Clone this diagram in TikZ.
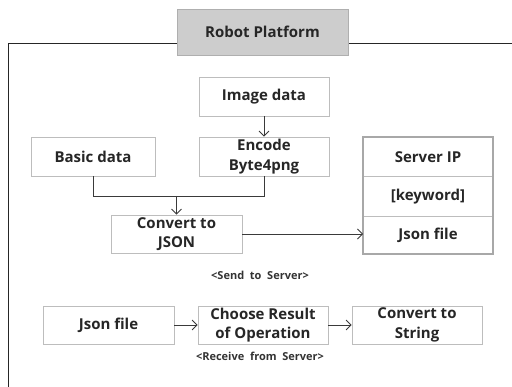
\documentclass[tikz,border=0pt]{standalone}
\usepackage{fontspec}
\setmainfont{Open Sans}
\usetikzlibrary{arrows.meta}
\definecolor{boxline}{HTML}{BDBDBD}
\definecolor{titlefill}{HTML}{CDCDCD}
\definecolor{titleline}{HTML}{AFAFAF}
\definecolor{srvline}{HTML}{A8A8A8}
\definecolor{wire}{HTML}{3A3A3A}
\tikzset{
  box/.style={draw=boxline, line width=0.8pt, fill=white, minimum width=130pt,
    minimum height=39pt, inner sep=1pt, align=center,
    font=\fontsize{15}{19.5}\selectfont\bfseries, text=black!85},
  row/.style={box, draw=none, minimum height=38.5pt, fill=none},
  note/.style={font=\fontsize{11}{13}\selectfont\bfseries, text=black!80},
  link/.style={draw=wire, line width=0.8pt},
  flow/.style={link, -{Straight Barb[length=5pt,width=10pt]}},
}
\begin{document}
\begin{tikzpicture}[x=1pt,y=-1pt]
\useasboundingbox (0,0) rectangle (512,387);
% platform frame
\coordinate (ftl) at (8,43);
\coordinate (ftr) at (512,43);
\coordinate (fbl) at (8,387);
\draw[link, draw=black!85] (ftr) -- (ftl) -- (fbl);
% title
\node[box, draw=titleline, fill=titlefill, minimum width=171pt, minimum height=46pt] (title) at (262.5,32) {Robot Platform};
% sending chain
\node[box] (img) at (264,96.5) {Image data};
\node[box, minimum width=124pt] (basic) at (93,156.5) {Basic data};
\node[box] (enc) at (264,156.5) {Encode\\Byte4png};
\node[box, minimum width=131pt, minimum height=38pt] (conv) at (176.5,234) {Convert to\\JSON};
% server message
\node[row] (ip) at (428,157) {Server IP};
\node[row] (kw) at (428,196.5) {[keyword]};
\node[row] (jf) at (428,235) {Json file};
\draw[draw=boxline, line width=0.8pt] (ip.south west) -- (ip.south east);
\draw[draw=boxline, line width=0.8pt] (kw.south west) -- (kw.south east);
\draw[draw=srvline, line width=2.6pt] (363,137) rectangle (493,254);
\node[note] (send) at (260,275) {<Send\ \ to\ \ Server>};
% receiving chain
\node[box, minimum width=131pt, minimum height=38pt] (jin) at (108.5,325) {Json file};
\node[box, minimum height=38pt] (choose) at (263,325) {Choose Result\\of Operation};
\node[box, minimum height=38pt] (str) at (417,325) {Convert to\\String};
\node[note] (recv) at (260,356) {<Receive\ \ from\ \ Server>};
% connectors
\coordinate (join) at (conv.north |- 0,196);
\draw[flow] (img) -- (enc);
\draw[link] (basic.south) |- (enc.south |- join) -- (enc.south);
\draw[flow] (join) -- (conv.north);
\draw[flow] (conv.east) -- (conv.east -| 363,0);
\draw[flow] (jin) -- (choose);
\draw[flow] (choose) -- (str);
\end{tikzpicture}
\end{document}
